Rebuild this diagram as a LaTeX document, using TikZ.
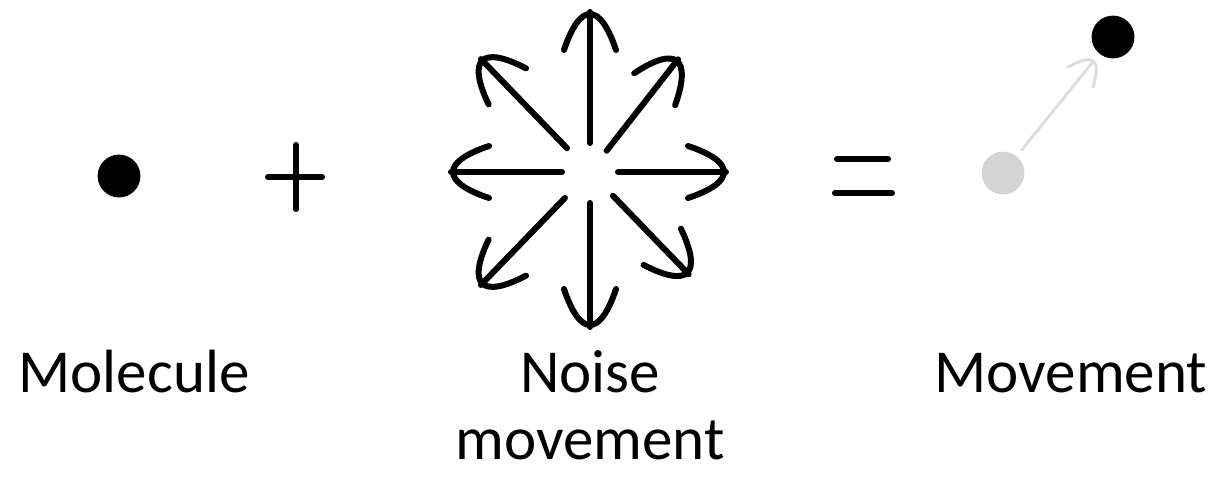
\documentclass[tikz,border=0pt]{standalone}
\usepackage{fontspec}
\setmainfont{Carlito}
\usepackage{xcolor}
\definecolor{DotBlack}{RGB}{0,0,0}
\definecolor{DotGray}{RGB}{212,212,212}
\definecolor{TrailGray}{RGB}{226,220,220}
\usepackage{tikz}
\usetikzlibrary{arrows.meta, positioning, calc}
\tikzset{
  % Molecule dot
  dot/.style={
    circle, fill=DotBlack, draw=none,
    minimum size=1.07cm, inner sep=0pt
  },
  dot gray/.style={dot, fill=DotGray},
  % Strokes (plus, equals, noise arrows)
  sign/.style={line width=0.15cm, line cap=round, line join=round, DotBlack},
  trail/.style={line width=0.075cm, line cap=round, line join=round, TrailGray},
  % Hand drawn arrow heads, tip at the origin, pointing along +x
  noisehead/.pic={
    \draw[sign] (-38,26) .. controls (10,10) and (10,-10) .. (-38,-26);
  },
  trailhead/.pic={
    \draw[trail] (-20,16) .. controls (7,5) and (7,-5) .. (-20,-16);
  },
  % Labels
  lbl/.style={font=\fontsize{43.4}{47}\selectfont, anchor=base, inner sep=0pt, align=center},
}

\begin{document}
\begin{tikzpicture}[x=0.025cm, y=-0.025cm]
  \useasboundingbox (0,0) rectangle (1219,476);

  %% Molecule
  \node[dot] (mol) at (119,176) {};
  \node[lbl] (mollbl) at (134,392) {Molecule};

  %% Plus
  \coordinate (plus) at (296,177);
  \draw[sign] ($(plus)+(-28,0)$) -- ($(plus)+(26,0)$);
  \draw[sign] ($(plus)+(0,-32)$) -- ($(plus)+(0,32)$);

  %% Noise star (angles clockwise, y points down)
  \coordinate (noise) at (590,172);
  \foreach \ang/\ra/\rb in {-90/29/160, -52/27/143, 0/28/136, 46/33/142,
      90/31/155, 134/36/157, 180/28/139, 226/33/157}{
    \draw[sign] ($(noise)+(\ang:\ra)$) -- ($(noise)+(\ang:\rb)$);
    \pic[rotate=-\ang] at ($(noise)+(\ang:\rb)$) {noisehead};
  }
  \node[lbl] (noiselbl) at (590,459) {Noise\\movement};

  %% Equals
  \coordinate (eq) at (863,176);
  \draw[sign] ($(eq)+(-26,-17)$) -- ($(eq)+(25,-17)$);
  \draw[sign] ($(eq)+(-28,17)$) -- ($(eq)+(29,17)$);

  %% Movement
  \node[dot gray] (start) at (1003,173) {};
  \node[dot] (end) at (1113,37) {};
  \coordinate (tstart) at ($(start)!0.17!(end)$);
  \coordinate (ttip) at ($(end)!0.18!(start)$);
  \draw[trail] (tstart) -- (ttip);
  \pic[rotate=51] at (ttip) {trailhead};
  \node[lbl] (movelbl) at (1071,392) {Movement};

\end{tikzpicture}
\end{document}
